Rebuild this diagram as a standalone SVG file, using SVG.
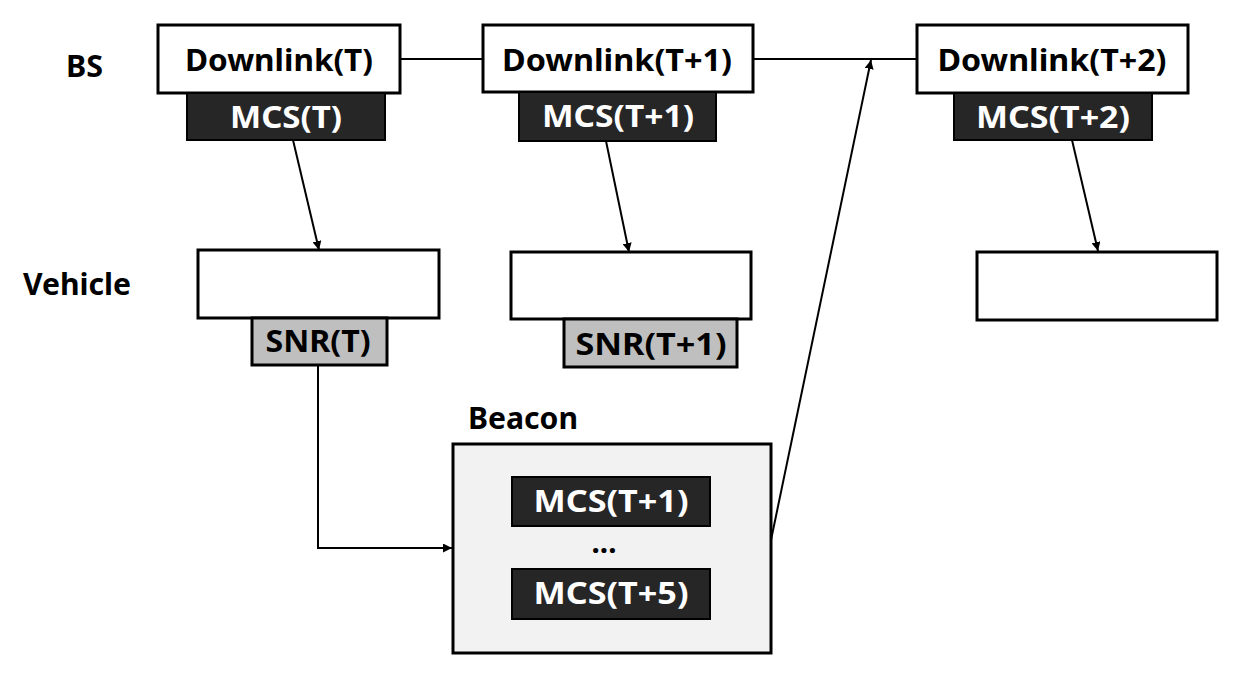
<svg xmlns="http://www.w3.org/2000/svg" width="1243" height="681" viewBox="0 0 1243 681">
<style>
.lbl{font-family:"Noto Sans","Open Sans","Liberation Sans",sans-serif;font-weight:bold;font-size:31px;}
.dl{fill:#000;text-anchor:middle;}
.wt{fill:#fff;text-anchor:middle;}
.box{fill:#fff;stroke:#000;stroke-width:3;}
.mcs{fill:#262626;stroke:#000;stroke-width:2;}
.snr{fill:#bfbfbf;stroke:#000;stroke-width:3;}
.beacon{fill:#f2f2f2;stroke:#000;stroke-width:3;}
.conn{fill:none;stroke:#000;stroke-width:2;}
</style>
<defs>
<marker id="arr" viewBox="0 0 10 10" refX="10" refY="5" markerWidth="9" markerHeight="9" markerUnits="userSpaceOnUse" orient="auto">
<path d="M0,0 L10,5 L0,10 z" fill="#000"/>
</marker>
</defs>
<rect width="1243" height="681" fill="#fff"/>
<g id="row-labels">
<text class="lbl" x="66" y="77" textLength="37" lengthAdjust="spacingAndGlyphs">BS</text>
<text class="lbl" x="23" y="295" textLength="108" lengthAdjust="spacingAndGlyphs">Vehicle</text>
</g>
<g id="connectors">
<line class="conn" x1="400" y1="59" x2="483" y2="59"/>
<line class="conn" x1="753" y1="59" x2="917" y2="59"/>
<line class="conn" x1="771" y1="540" x2="871" y2="60" marker-end="url(#arr)"/>
<line class="conn" x1="293" y1="140" x2="319" y2="250" marker-end="url(#arr)"/>
<line class="conn" x1="606" y1="141" x2="629" y2="252" marker-end="url(#arr)"/>
<line class="conn" x1="1072" y1="140" x2="1098" y2="251" marker-end="url(#arr)"/>
<polyline class="conn" points="318,365 318,548 452,548" marker-end="url(#arr)"/>
</g>
<g id="downlink-t">
<rect class="box" x="158" y="25" width="242" height="68"/>
<text class="lbl dl" x="279" y="71" textLength="188" lengthAdjust="spacingAndGlyphs">Downlink(T)</text>
<rect class="mcs" x="187" y="93" width="198" height="47"/>
<text class="lbl wt" x="286" y="128" textLength="112" lengthAdjust="spacingAndGlyphs">MCS(T)</text>
</g>
<g id="downlink-t1">
<rect class="box" x="483" y="25" width="270" height="67"/>
<text class="lbl dl" x="617" y="71" textLength="230" lengthAdjust="spacingAndGlyphs">Downlink(T+1)</text>
<rect class="mcs" x="519" y="92" width="197" height="49"/>
<text class="lbl wt" x="618" y="127" textLength="152" lengthAdjust="spacingAndGlyphs">MCS(T+1)</text>
</g>
<g id="downlink-t2">
<rect class="box" x="917" y="25" width="271" height="68"/>
<text class="lbl dl" x="1052" y="71" textLength="229" lengthAdjust="spacingAndGlyphs">Downlink(T+2)</text>
<rect class="mcs" x="954" y="93" width="198" height="47"/>
<text class="lbl wt" x="1053" y="128" textLength="154" lengthAdjust="spacingAndGlyphs">MCS(T+2)</text>
</g>
<g id="vehicle-t">
<rect class="box" x="198" y="250" width="241" height="68"/>
<rect class="snr" x="252" y="318" width="135" height="47"/>
<text class="lbl dl" x="318" y="352" textLength="105" lengthAdjust="spacingAndGlyphs">SNR(T)</text>
</g>
<g id="vehicle-t1">
<rect class="box" x="511" y="252" width="240" height="67"/>
<rect class="snr" x="564" y="319" width="173" height="48"/>
<text class="lbl dl" x="651" y="355" textLength="151" lengthAdjust="spacingAndGlyphs">SNR(T+1)</text>
</g>
<g id="vehicle-t2">
<rect class="box" x="977" y="252" width="240" height="68"/>
</g>
<g id="beacon">
<text class="lbl" x="468" y="429" textLength="110" lengthAdjust="spacingAndGlyphs">Beacon</text>
<rect class="beacon" x="453" y="444" width="318" height="209"/>
<rect class="mcs" x="512" y="477" width="198" height="49"/>
<text class="lbl wt" x="611" y="512" textLength="155" lengthAdjust="spacingAndGlyphs">MCS(T+1)</text>
<text class="lbl dl" x="604" y="553" textLength="25" lengthAdjust="spacingAndGlyphs">...</text>
<rect class="mcs" x="512" y="569" width="198" height="50"/>
<text class="lbl wt" x="611" y="604" textLength="155" lengthAdjust="spacingAndGlyphs">MCS(T+5)</text>
</g>
</svg>
